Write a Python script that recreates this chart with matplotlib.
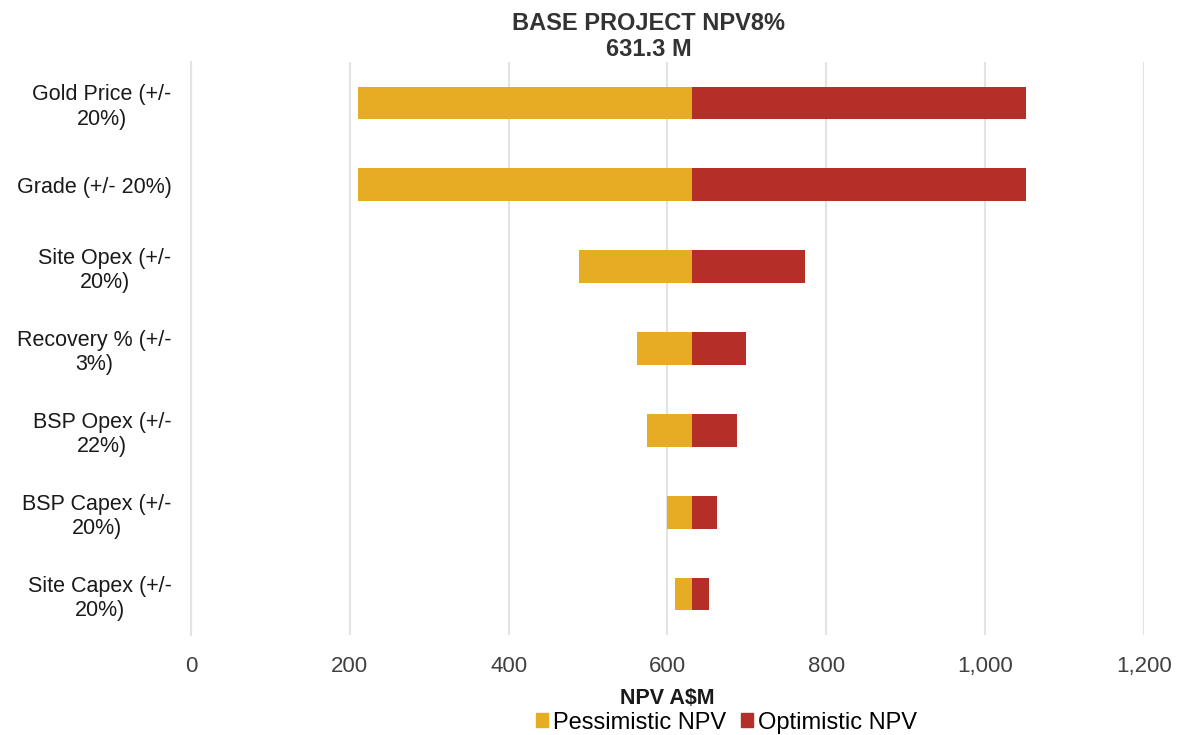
import matplotlib
matplotlib.use("Agg")
import matplotlib.pyplot as plt
from matplotlib.ticker import FuncFormatter
from matplotlib.patches import Patch

plt.rcParams['font.family'] = ['Liberation Sans', 'DejaVu Sans']

categories = ["Gold Price (+/-\n20%)", "Grade (+/- 20%)", "Site Opex (+/-\n20%)",
              "Recovery % (+/-\n3%)", "BSP Opex (+/-\n22%)", "BSP Capex (+/-\n20%)",
              "Site Capex (+/-\n20%)"]
base_npv = 631.3
pessimistic = [210, 210, 489, 562, 574, 599, 609]
optimistic = [1051, 1051, 773, 699, 687, 662, 652]
xticks = [0, 200, 400, 600, 800, 1000, 1200]

yellow = "#E6AD24"
red = "#B52F28"

fig = plt.figure(figsize=(11.96, 7.35), dpi=100)
ax = fig.add_axes([0.1597, 0.136, 0.7968, 0.7796])

y = list(range(len(categories)))
ax.barh(y, [base_npv - p for p in pessimistic], left=pessimistic, height=0.4,
        color=yellow, label="Pessimistic NPV", zorder=3)
ax.barh(y, [o - base_npv for o in optimistic], left=base_npv, height=0.4,
        color=red, label="Optimistic NPV", zorder=3)

ax.set_xlim(0, 1200)
ax.set_ylim(len(categories) - 0.5, -0.5)
ax.set_xticks(xticks)
ax.xaxis.set_major_formatter(FuncFormatter(lambda v, p: f"{int(v):,}"))
ax.set_yticks(y)
ax.set_yticklabels(categories, multialignment='center', fontsize=15.5, color="#1a1a1a",
                   linespacing=1.2)
ax.tick_params(axis='x', labelsize=16, colors="#404040", length=0, pad=15)
ax.tick_params(axis='y', length=0, pad=14)
ax.grid(axis='x', color="#e3e3e3", linewidth=1.5, zorder=0)
ax.axvline(0, color="#e3e3e3", linewidth=1.5, zorder=0, clip_on=False)
for s in ax.spines.values():
    s.set_visible(False)

ax.set_xlabel("NPV A$M", fontsize=15.5, fontweight='bold', color="#1a1a1a", labelpad=8)
fig.text(0.5425, 0.984, "BASE PROJECT NPV8%\n631.3 M", ha='center', va='top',
         fontsize=17, fontweight='bold', color="#333333", linespacing=1.2)

handles = [Patch(color=yellow, label="Pessimistic NPV"), Patch(color=red, label="Optimistic NPV")]
fig.legend(handles=handles, loc='lower center', bbox_to_anchor=(0.6075, -0.027), ncol=2,
           frameon=False, fontsize=17, handlelength=0.5, handleheight=0.5,
           handletextpad=0.25, columnspacing=0.6)

fig.savefig("out.png", dpi=100)
